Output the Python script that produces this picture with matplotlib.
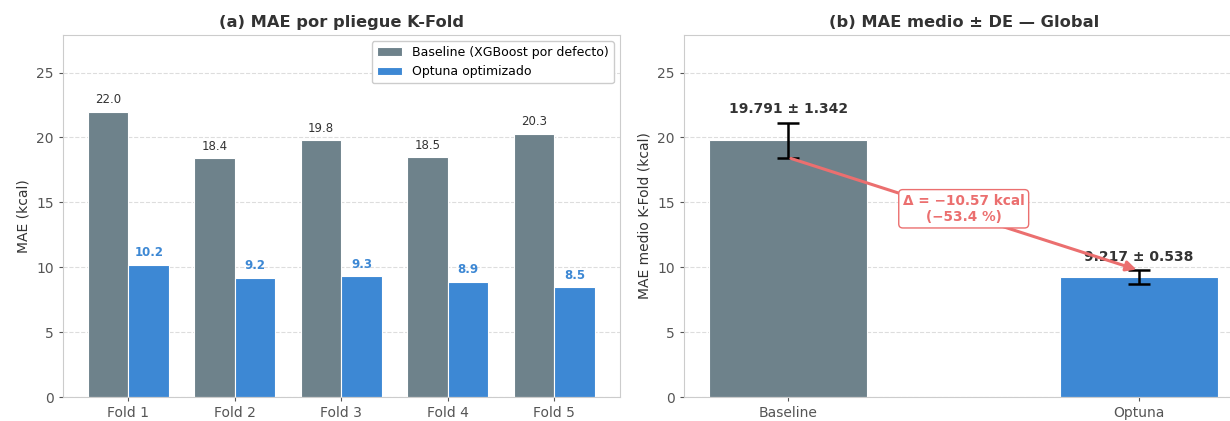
import numpy as np
import matplotlib
matplotlib.use("Agg")
import matplotlib.pyplot as plt

folds = ["Fold 1", "Fold 2", "Fold 3", "Fold 4", "Fold 5"]
baseline_mae = [22.0, 18.4, 19.8, 18.5, 20.3]
optuna_mae = [10.2, 9.2, 9.3, 8.9, 8.5]

models = ["Baseline", "Optuna"]
mean_mae = [19.791, 9.217]
std_mae = [1.342, 0.538]

c_base = "#6E828B"
c_opt = "#3D88D4"
c_arrow = "#EB6F6F"

plt.rcParams["font.family"] = "DejaVu Sans"

fig, (ax1, ax2) = plt.subplots(1, 2, figsize=(12.3, 4.21), dpi=100)
ax1.set_position([0.051, 0.057, 0.453, 0.86])
ax2.set_position([0.556, 0.057, 0.455, 0.86])

for ax in (ax1, ax2):
    for s in ax.spines.values():
        s.set_color("#cccccc")
    ax.tick_params(colors="#555555", labelsize=10, length=3)
    ax.grid(axis="y", linestyle="--", color="#dddddd", linewidth=0.8)
    ax.set_axisbelow(True)
    ax.set_ylim(0, 27.9)
    ax.set_yticks([0, 5, 10, 15, 20, 25])

# (a) per fold
x = np.arange(len(folds))
w = 0.38
ax1.bar(x - w / 2, baseline_mae, w, color=c_base, edgecolor="white", linewidth=0.8,
        label="Baseline (XGBoost por defecto)")
ax1.bar(x + w / 2, optuna_mae, w, color=c_opt, edgecolor="white", linewidth=0.8,
        label="Optuna optimizado")
for i in range(len(folds)):
    ax1.text(x[i] - w / 2, baseline_mae[i] + 0.4, f"{baseline_mae[i]:.1f}",
             ha="center", va="bottom", fontsize=8.5, color="#333333")
    ax1.text(x[i] + w / 2, optuna_mae[i] + 0.4, f"{optuna_mae[i]:.1f}",
             ha="center", va="bottom", fontsize=8.5, color=c_opt, fontweight="bold")
ax1.set_xticks(x)
ax1.set_xticklabels(folds)
ax1.set_ylabel("MAE (kcal)", fontsize=10, color="#333333")
ax1.set_title("(a) MAE por pliegue K-Fold", fontsize=11.7, fontweight="bold", color="#333333")
ax1.legend(loc="upper right", fontsize=9, framealpha=1, edgecolor="#cccccc")

# (b) mean +- std
x2 = np.arange(len(models))
ax2.bar(x2, mean_mae, 0.45, color=[c_base, c_opt], edgecolor="white", linewidth=0.8)
ax2.errorbar(x2, mean_mae, yerr=std_mae, fmt="none", ecolor="black",
             elinewidth=1.8, capsize=8, capthick=1.8)
for i in range(len(models)):
    ax2.text(x2[i], mean_mae[i] + std_mae[i] + 0.5, f"{mean_mae[i]:.3f} ± {std_mae[i]:.3f}",
             ha="center", va="bottom", fontsize=10, fontweight="bold", color="#333333")
ax2.set_xticks(x2)
ax2.set_xticklabels(models)
ax2.set_ylabel("MAE medio K-Fold (kcal)", fontsize=10, color="#333333")
ax2.set_title("(b) MAE medio ± DE — Global", fontsize=11.7, fontweight="bold", color="#333333")

delta = mean_mae[1] - mean_mae[0]
pct = delta / mean_mae[0] * 100
ax2.annotate("", xy=(1, mean_mae[1] + std_mae[1]), xytext=(0, mean_mae[0] - std_mae[0]),
             arrowprops=dict(arrowstyle="-|>", color=c_arrow, lw=2.2, mutation_scale=15))
ax2.text(0.5, (mean_mae[0] + mean_mae[1]) / 2,
         f"Δ = −{abs(delta):.2f} kcal\n(−{abs(pct):.1f} %)",
         ha="center", va="center", fontsize=9.8, fontweight="bold", color=c_arrow,
         bbox=dict(boxstyle="round,pad=0.3", fc="white", ec=c_arrow, lw=1))

fig.savefig("out.png", dpi=100)
